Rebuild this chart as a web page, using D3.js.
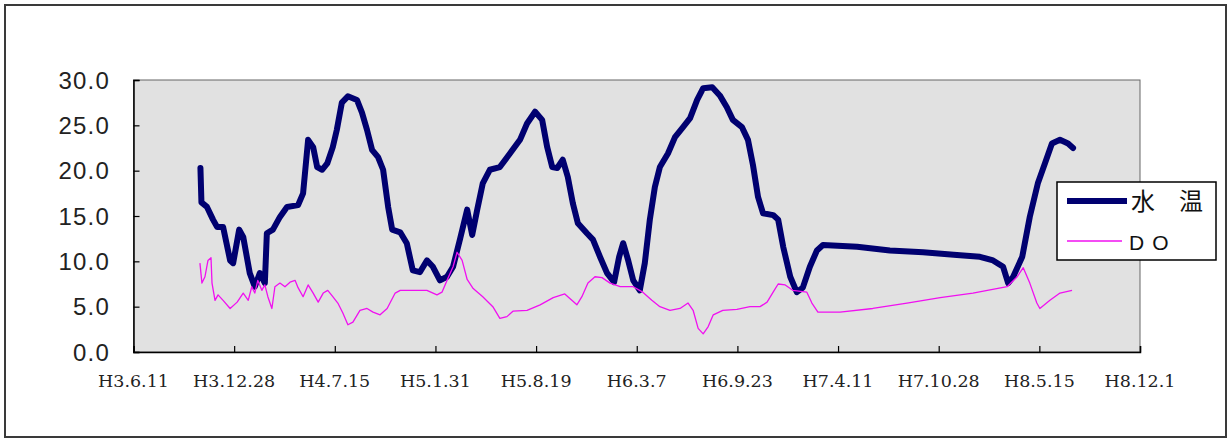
<!DOCTYPE html>
<html>
<head>
<meta charset="utf-8">
<script src="https://cdn.jsdelivr.net/npm/d3@7"></script>
<style>
  html, body { margin: 0; padding: 0; background: #fff; }
  svg { display: block; }
</style>
</head>
<body>
<svg id="chart" width="1231" height="439"></svg>
<script>
// ---- data ----
// x axis: dates (Heisei labels), every 200 days
const tickDates = ["1991-06-11","1991-12-28","1992-07-15","1993-01-31","1993-08-19","1994-03-07","1994-09-23","1995-04-11","1995-10-28","1996-05-15","1996-12-01"];
const tickLabels = ["H3.6.11","H3.12.28","H4.7.15","H5.1.31","H5.8.19","H6.3.7","H6.9.23","H7.4.11","H7.10.28","H8.5.15","H8.12.1"];
const yTicks = [0, 5, 10, 15, 20, 25, 30];
const seriesNames = ["水　温", "DO"];

// days elapsed since H3.6.11 and values
const tempDays = [133,135,146,158,166,178,192,198,210,218,231,241,251,261,265,277,291,305,327,337,347,357,365,375,385,396,404,414,426,444,454,464,474,486,496,506,514,530,543,555,569,583,595,609,623,635,649,663,673,683,694,708,728,748,768,782,798,812,822,832,842,853,863,873,883,901,913,927,941,955,965,973,983,993,1006,1016,1026,1036,1046,1062,1076,1092,1106,1120,1132,1150,1165,1179,1191,1209,1221,1231,1241,1251,1271,1281,1291,1305,1318,1330,1344,1358,1370,1438,1503,1569,1636,1682,1708,1728,1738,1748,1766,1781,1797,1811,1825,1841,1857,1867];
const tempVals = [20.3,16.5,16.0,14.6,13.8,13.8,10.1,9.8,13.5,12.7,8.7,7.2,8.7,7.6,13.1,13.5,14.9,16.0,16.2,17.5,23.4,22.6,20.4,20.1,20.8,22.6,24.5,27.5,28.2,27.8,26.4,24.5,22.3,21.5,20.1,16.0,13.5,13.2,12.0,9.0,8.8,10.1,9.4,7.9,8.3,9.4,12.5,15.7,12.9,15.7,18.6,20.1,20.4,21.9,23.4,25.2,26.5,25.6,22.6,20.4,20.3,21.2,19.3,16.4,14.2,13.1,12.4,10.5,8.7,7.7,10.5,12.0,10.1,7.9,6.8,9.8,14.6,18.2,20.4,21.9,23.7,24.8,25.8,27.8,29.1,29.2,28.3,27.0,25.6,24.8,23.4,20.6,17.1,15.3,15.1,14.6,11.6,8.3,6.6,7.1,9.4,11.2,11.8,11.6,11.2,11.0,10.7,10.5,10.1,9.4,7.6,8.3,10.5,14.9,18.6,20.8,23.0,23.4,23.0,22.5];

const doDays = [132,136,142,148,154,156,162,168,178,192,206,218,228,235,241,247,255,261,267,275,281,291,301,311,321,327,337,347,357,367,377,386,396,406,416,426,436,450,464,476,490,504,520,530,555,583,603,613,623,635,643,653,663,675,694,714,728,742,754,782,808,834,857,871,881,891,903,917,931,947,967,993,1012,1030,1046,1066,1086,1102,1112,1122,1132,1142,1152,1171,1199,1225,1245,1259,1271,1281,1295,1310,1338,1348,1360,1404,1469,1537,1603,1668,1736,1756,1768,1781,1795,1801,1821,1841,1865];
const doVals = [9.8,7.6,8.3,10.1,10.4,7.6,5.7,6.3,5.7,4.8,5.5,6.5,5.7,7.2,6.5,7.9,6.8,7.4,6.1,4.8,7.2,7.6,7.2,7.7,7.9,7.1,6.1,7.4,6.5,5.5,6.5,6.8,6.1,5.4,4.3,3.0,3.3,4.6,4.8,4.4,4.1,4.8,6.5,6.8,6.8,6.8,6.3,6.6,7.9,9.4,11.0,10.1,8.0,7.0,6.1,5.0,3.7,3.9,4.5,4.6,5.2,6.0,6.4,5.7,5.2,6.1,7.6,8.3,8.2,7.6,7.2,7.2,6.6,5.7,5.0,4.6,4.8,5.4,4.6,2.6,2.0,2.8,4.1,4.6,4.7,5.0,5.0,5.5,6.6,7.5,7.4,6.8,6.6,5.4,4.4,4.4,4.8,5.4,6.0,6.5,7.2,8.3,9.3,7.6,5.4,4.8,5.7,6.5,6.8];

// ---- drawing ----
const svg = d3.select("#chart");
const parse = d3.utcParse("%Y-%m-%d");
const ticks = tickDates.map(parse);
const start = ticks[0];

const plot = { left: 133.5, top: 80, right: 1140, bottom: 352 };

const x = d3.scaleUtc().domain([ticks[0], ticks[ticks.length - 1]]).range([plot.left, plot.right]);
const y = d3.scaleLinear().domain([0, 30]).range([plot.bottom, plot.top]);

// outer frame
svg.append("rect").attr("x", 5).attr("y", 5).attr("width", 1221).attr("height", 432)
  .attr("fill", "#fff").attr("stroke", "#3a3a3a").attr("stroke-width", 2);

// plot area
svg.append("rect").attr("x", plot.left).attr("y", plot.top)
  .attr("width", plot.right - plot.left).attr("height", plot.bottom - plot.top)
  .attr("fill", "#e1e1e1").attr("stroke", "#666").attr("stroke-width", 1);

// y axis
const yAxis = d3.axisRight(y).tickValues(yTicks).tickSize(6).tickFormat("");
const gy = svg.append("g").attr("transform", `translate(${plot.left},0)`).call(yAxis);
gy.select(".domain").attr("stroke", "#000").attr("stroke-width", 1.5);
gy.selectAll(".tick line").attr("stroke", "#000").attr("stroke-width", 1.2);

svg.append("g").selectAll("text").data(yTicks).join("text")
  .attr("x", 110).attr("y", d => y(d))
  .attr("dy", "0.36em")
  .attr("text-anchor", "end")
  .attr("font-family", "Liberation Sans, Arial, sans-serif")
  .attr("font-size", 24)
  .attr("letter-spacing", "1.2px")
  .attr("fill", "#222")
  .text(d => d3.format(".1f")(d));

// x axis
const xAxis = d3.axisTop(x).tickValues(ticks).tickSize(6).tickFormat("");
const gx = svg.append("g").attr("transform", `translate(0,${plot.bottom})`).call(xAxis);
gx.select(".domain").attr("stroke", "#000").attr("stroke-width", 1.5);
gx.selectAll(".tick line").attr("stroke", "#000").attr("stroke-width", 1.2);

svg.append("g").selectAll("text").data(ticks).join("text")
  .attr("x", d => x(d)).attr("y", 387)
  .attr("text-anchor", "middle")
  .attr("font-family", "DejaVu Serif, serif")
  .attr("font-size", 17.5)
  .attr("fill", "#222")
  .text((d, i) => tickLabels[i]);

// series
const tempData = tempDays.map((d, i) => ({ date: d3.utcDay.offset(start, d), v: tempVals[i] }));
const doData = doDays.map((d, i) => ({ date: d3.utcDay.offset(start, d), v: doVals[i] }));
const line = d3.line().x(d => x(d.date)).y(d => y(d.v));

svg.append("path").datum(tempData).attr("d", line)
  .attr("fill", "none").attr("stroke", "#000070").attr("stroke-width", 6)
  .attr("stroke-linejoin", "round").attr("stroke-linecap", "round");

svg.append("path").datum(doData).attr("d", line)
  .attr("fill", "none").attr("stroke", "#f010f0").attr("stroke-width", 1.3)
  .attr("stroke-linejoin", "round");

// legend
const lg = svg.append("g");
lg.append("rect").attr("x", 1057).attr("y", 182).attr("width", 159).attr("height", 78)
  .attr("fill", "#fff").attr("stroke", "#000").attr("stroke-width", 1.5);
lg.append("line").attr("x1", 1067).attr("x2", 1127).attr("y1", 201).attr("y2", 201)
  .attr("stroke", "#000070").attr("stroke-width", 6);
lg.append("line").attr("x1", 1067).attr("x2", 1122).attr("y1", 241).attr("y2", 241)
  .attr("stroke", "#f010f0").attr("stroke-width", 1.3);
lg.append("text").attr("x", 1131).attr("y", 201).attr("dy", "0.36em")
  .attr("font-family", "Noto Sans CJK JP, sans-serif").attr("font-size", 24)
  .attr("fill", "#111").text(seriesNames[0]);
lg.append("text").attr("x", 1129).attr("y", 242).attr("dy", "0.36em")
  .attr("font-family", "Liberation Sans, Arial, sans-serif").attr("font-size", 21)
  .attr("letter-spacing", "8px")
  .attr("fill", "#111").text(seriesNames[1]);
</script>
</body>
</html>
